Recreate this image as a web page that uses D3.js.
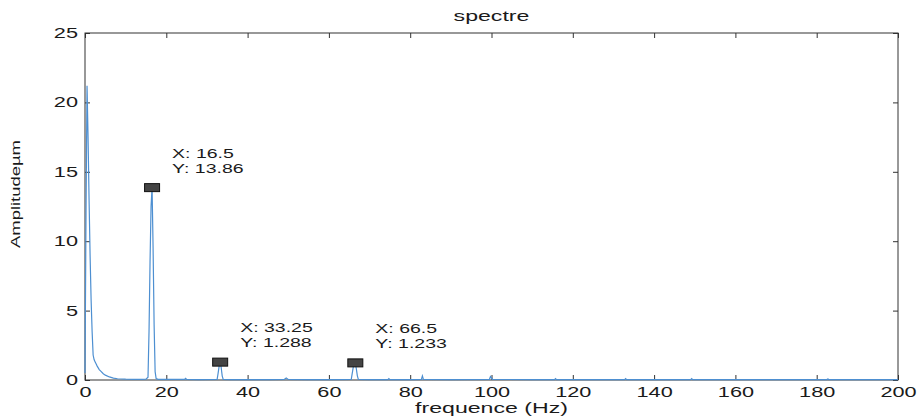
<!DOCTYPE html>
<html>
<head>
<meta charset="utf-8">
<script src="https://cdn.jsdelivr.net/npm/d3@7"></script>
<style>
  body { margin: 0; background: #fff; }
  text { font-family: "Liberation Sans", Arial, sans-serif; fill: #1a1a1a; }
</style>
</head>
<body>
<div id="chart"></div>
<script>
// spectrum (Hz, amplitude)
var freqs = [0, 0.25, 0.5, 0.75, 1, 1.25, 1.5, 1.75, 2, 2.25, 2.5, 2.75, 3, 3.5, 4, 4.5, 5, 6, 7, 8, 10, 12, 14, 15,
  15.5, 15.75, 16, 16.25, 16.5, 16.75, 17, 17.25, 17.5, 18, 20, 24.5, 24.75, 25, 28,
  32.5, 32.75, 33, 33.25, 33.5, 33.75, 34, 36, 40, 45, 49, 49.5, 50, 55, 60,
  65.5, 65.75, 66, 66.25, 66.5, 66.75, 67, 67.25, 70, 74.5, 74.75, 75, 80, 82.75, 83, 83.25, 90,
  99.5, 99.75, 100, 100.25, 110, 115.5, 115.75, 116, 125, 132.75, 133, 133.25, 140,
  149, 149.25, 149.5, 160, 170, 182.5, 182.75, 183, 190, 200];
var amps = [0.5, 12, 21.2, 17.5, 13, 9, 5.8, 3.5, 1.8, 1.45, 1.3, 1.15, 1.0, 0.75, 0.6, 0.45, 0.35, 0.22, 0.14, 0.09, 0.06, 0.05, 0.05, 0.06,
  0.2, 3.5, 8.5, 12.5, 13.86, 9.5, 4, 0.6, 0.1, 0.05, 0.04, 0.04, 0.12, 0.04, 0.03,
  0.04, 0.5, 1.0, 1.288, 0.9, 0.3, 0.05, 0.03, 0.03, 0.03, 0.04, 0.15, 0.04, 0.03, 0.03,
  0.05, 0.5, 0.95, 1.1, 1.233, 0.8, 0.3, 0.05, 0.03, 0.03, 0.1, 0.03, 0.03, 0.05, 0.3, 0.05, 0.03,
  0.05, 0.25, 0.15, 0.04, 0.03, 0.03, 0.1, 0.03, 0.03, 0.03, 0.1, 0.03, 0.03,
  0.03, 0.1, 0.03, 0.03, 0.03, 0.03, 0.08, 0.03, 0.03, 0.03];

// data tips
var tipX = [16.5, 33.25, 66.5];
var tipY = [13.86, 1.288, 1.233];
var tipXText = ["16.5", "33.25", "66.5"];
var tipYText = ["13.86", "1.288", "1.233"];

var xTicks = [0, 20, 40, 60, 80, 100, 120, 140, 160, 180, 200];
var yTicks = [0, 5, 10, 15, 20, 25];

var W = 921, H = 420;
var margin = { top: 33, right: 23, bottom: 40, left: 85 },
  width = W - margin.left - margin.right,
  height = H - margin.top - margin.bottom;

var svg = d3.select("#chart").append("svg")
  .attr("width", W)
  .attr("height", H);

var g = svg.append("g")
  .attr("transform", "translate(" + margin.left + "," + margin.top + ")");

var x = d3.scaleLinear().domain([0, 200]).range([0, width]);
var y = d3.scaleLinear().domain([0, 25]).range([height, 0]);

// widen text like the scanned original
function stretch(sel, k) {
  sel.each(function () {
    var w = this.getComputedTextLength();
    d3.select(this).attr("textLength", w * k).attr("lengthAdjust", "spacingAndGlyphs");
  });
}

function styleAxis(ax, labels) {
  ax.select(".domain").remove();
  ax.selectAll(".tick line").attr("stroke", "#333");
  if (!labels) ax.selectAll(".tick text").remove();
  else ax.selectAll(".tick text")
    .style("font-family", "Liberation Sans, Arial, sans-serif")
    .style("font-size", "14px")
    .attr("fill", "#1a1a1a");
}

var xAx = g.append("g").attr("transform", "translate(0," + height + ")")
  .call(d3.axisBottom(x).tickValues(xTicks).tickSize(-5).tickPadding(7));
styleAxis(xAx, true);
stretch(xAx.selectAll(".tick text"), 1.55);

var xTop = g.append("g").call(d3.axisTop(x).tickValues(xTicks).tickSize(-5));
styleAxis(xTop, false);

var yAx = g.append("g")
  .call(d3.axisLeft(y).tickValues(yTicks).tickSize(-5).tickPadding(7));
styleAxis(yAx, true);
stretch(yAx.selectAll(".tick text"), 1.55);

var yRight = g.append("g").attr("transform", "translate(" + width + ",0)")
  .call(d3.axisRight(y).tickValues(yTicks).tickSize(-5));
styleAxis(yRight, false);

g.append("rect")
  .attr("width", width)
  .attr("height", height)
  .attr("fill", "none")
  .attr("stroke", "#333")
  .attr("stroke-width", 1);

var pts = freqs.map(function (f, i) { return { f: f, a: amps[i] }; });

var line = d3.line()
  .x(function (d) { return x(d.f); })
  .y(function (d) { return y(d.a); });

g.append("path")
  .datum(pts)
  .attr("d", line)
  .attr("fill", "none")
  .attr("stroke", "#4d8fd1")
  .attr("stroke-width", 1.2);

// data tip markers + labels
tipX.forEach(function (tx, i) {
  var cx = x(tx), cy = y(tipY[i]);
  g.append("rect")
    .attr("x", cx - 7.5)
    .attr("y", cy - 4)
    .attr("width", 15)
    .attr("height", 8)
    .attr("fill", "#444")
    .attr("stroke", "#111")
    .attr("stroke-width", 1);

  var t1 = g.append("text")
    .attr("x", cx + 20)
    .attr("y", cy - 30)
    .style("font-size", "13px")
    .text("X: " + tipXText[i]);
  var t2 = g.append("text")
    .attr("x", cx + 20)
    .attr("y", cy - 15)
    .style("font-size", "13px")
    .text("Y: " + tipYText[i]);
  stretch(t1, 1.5);
  stretch(t2, 1.5);
});

var title = svg.append("text")
  .attr("x", margin.left + width / 2)
  .attr("y", 21)
  .attr("text-anchor", "middle")
  .style("font-size", "14px")
  .text("spectre");
stretch(title, 1.65);

var xlab = svg.append("text")
  .attr("x", margin.left + width / 2)
  .attr("y", 413)
  .attr("text-anchor", "middle")
  .style("font-size", "14px")
  .text("frequence (Hz)");
stretch(xlab, 1.65);

svg.append("text")
  .attr("transform", "translate(20,194) rotate(-90)")
  .attr("text-anchor", "middle")
  .style("font-size", "12px")
  .attr("textLength", 108)
  .attr("lengthAdjust", "spacingAndGlyphs")
  .text("Amplitudeµm");
</script>
</body>
</html>
